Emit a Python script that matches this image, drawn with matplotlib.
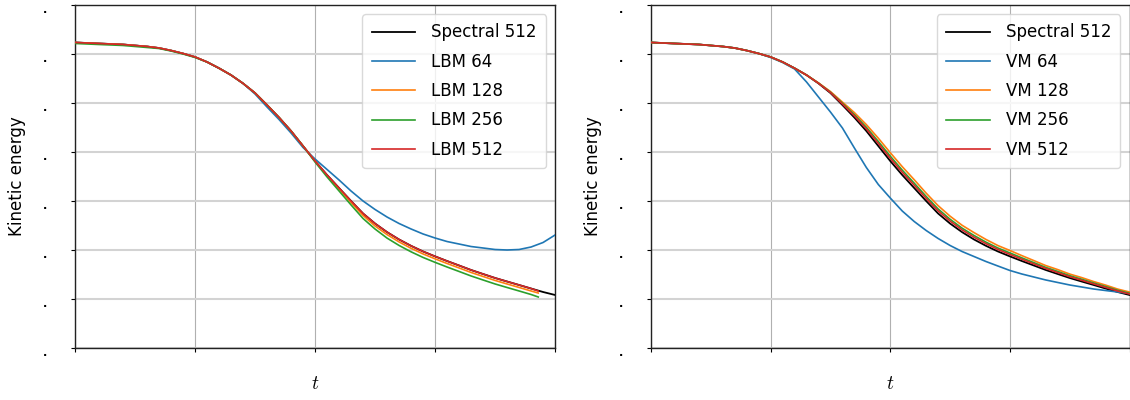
import numpy as np
import matplotlib.pyplot as plt

plt.rcParams['mathtext.fontset'] = 'cm'
plt.rcParams['font.family'] = 'DejaVu Sans'

# time samples
t = [0, 1, 2, 3, 3.5, 4, 4.5, 5, 5.5, 6, 6.5, 7, 7.5, 8, 8.5, 9, 9.5, 10, 10.5, 11, 11.5,
     12, 12.5, 13, 13.5, 14, 14.5, 15, 15.5, 16, 16.5, 17, 17.5, 18, 18.5, 19, 19.5, 20]
t_lbm = t[:36] + [19.3]

spectral = [0.06235, 0.06214, 0.06194, 0.06153, 0.06122, 0.06071, 0.06010, 0.05939, 0.05837,
            0.05710, 0.05570, 0.05400, 0.05204, 0.04959, 0.04704, 0.04429, 0.04122, 0.03816,
            0.03531, 0.03265, 0.03000, 0.02745, 0.02540, 0.02365, 0.02215, 0.02085, 0.01970,
            0.01870, 0.01775, 0.01684, 0.01592, 0.01510, 0.01429, 0.01357, 0.01286, 0.01214,
            0.01143, 0.01082]

# left panel: LBM
lbm_64 = [0.06235, 0.06214, 0.06194, 0.06153, 0.06122, 0.06071, 0.06010, 0.05939, 0.05837,
          0.05710, 0.05570, 0.05400, 0.05184, 0.04918, 0.04663, 0.04388, 0.04092, 0.03857,
          0.03643, 0.03429, 0.03204, 0.03000, 0.02827, 0.02673, 0.02541, 0.02429, 0.02327,
          0.02245, 0.02173, 0.02122, 0.02071, 0.02041, 0.02010, 0.02000, 0.02010, 0.02061,
          0.02153, 0.02306]
lbm_128 = [0.06235, 0.06214, 0.06194, 0.06153, 0.06122, 0.06071, 0.06010, 0.05939, 0.05837,
           0.05710, 0.05570, 0.05400, 0.05204, 0.04959, 0.04704, 0.04429, 0.04122, 0.03816,
           0.03521, 0.03245, 0.02970, 0.02705, 0.02490, 0.02315, 0.02165, 0.02035, 0.01920,
           0.01820, 0.01725, 0.01634, 0.01542, 0.01460, 0.01379, 0.01307, 0.01236, 0.01164,
           0.01122]
lbm_256 = [0.06215, 0.06194, 0.06174, 0.06133, 0.06112, 0.06061, 0.06000, 0.05929, 0.05837,
           0.05710, 0.05570, 0.05400, 0.05204, 0.04959, 0.04704, 0.04429, 0.04122, 0.03796,
           0.03491, 0.03205, 0.02920, 0.02643, 0.02428, 0.02243, 0.02093, 0.01963, 0.01848,
           0.01748, 0.01653, 0.01562, 0.01470, 0.01388, 0.01307, 0.01235, 0.01164, 0.01092,
           0.01041]
lbm_512 = [0.06235, 0.06214, 0.06194, 0.06153, 0.06122, 0.06071, 0.06010, 0.05939, 0.05837,
           0.05710, 0.05570, 0.05400, 0.05204, 0.04959, 0.04704, 0.04429, 0.04122, 0.03816,
           0.03531, 0.03265, 0.03000, 0.02745, 0.02540, 0.02365, 0.02215, 0.02085, 0.01970,
           0.01870, 0.01775, 0.01684, 0.01592, 0.01510, 0.01429, 0.01357, 0.01286, 0.01214,
           0.01163]

# right panel: VM
vm_64 = [0.06235, 0.06214, 0.06194, 0.06153, 0.06122, 0.06071, 0.06010, 0.05929, 0.05827,
         0.05694, 0.05429, 0.05122, 0.04816, 0.04490, 0.04082, 0.03684, 0.03337, 0.03061,
         0.02796, 0.02582, 0.02398, 0.02235, 0.02092, 0.01969, 0.01867, 0.01765, 0.01673,
         0.01582, 0.01510, 0.01449, 0.01388, 0.01337, 0.01286, 0.01245, 0.01204, 0.01173,
         0.01143, 0.01112]
vm_128 = [0.06235, 0.06214, 0.06194, 0.06153, 0.06122, 0.06071, 0.06010, 0.05939, 0.05837,
          0.05710, 0.05570, 0.05410, 0.05234, 0.05019, 0.04804, 0.04559, 0.04282, 0.03986,
          0.03701, 0.03435, 0.03160, 0.02905, 0.02690, 0.02505, 0.02355, 0.02215, 0.02090,
          0.01990, 0.01885, 0.01784, 0.01682, 0.01600, 0.01509, 0.01437, 0.01356, 0.01284,
          0.01203, 0.01142]
vm_256 = [0.06235, 0.06214, 0.06194, 0.06153, 0.06122, 0.06071, 0.06010, 0.05939, 0.05837,
          0.05710, 0.05570, 0.05406, 0.05221, 0.04994, 0.04762, 0.04504, 0.04215, 0.03915,
          0.03630, 0.03364, 0.03093, 0.02838, 0.02627, 0.02446, 0.02296, 0.02160, 0.02040,
          0.01940, 0.01839, 0.01742, 0.01644, 0.01562, 0.01475, 0.01403, 0.01327, 0.01255,
          0.01178, 0.01117]
vm_512 = [0.06235, 0.06214, 0.06194, 0.06153, 0.06122, 0.06071, 0.06010, 0.05939, 0.05837,
          0.05710, 0.05570, 0.05403, 0.05214, 0.04979, 0.04737, 0.04472, 0.04175, 0.03872,
          0.03587, 0.03321, 0.03053, 0.02798, 0.02590, 0.02411, 0.02261, 0.02128, 0.02010,
          0.01910, 0.01811, 0.01717, 0.01622, 0.01540, 0.01455, 0.01383, 0.01309, 0.01237,
          0.01163, 0.01102]

fig = plt.figure(figsize=(11.3, 4), dpi=100)
ax1 = fig.add_axes([0.0664, 0.13, 0.4248, 0.8575])
ax2 = fig.add_axes([0.5761, 0.13, 0.4235, 0.8575])

panels = [
    (ax1, 'LBM', [(t, lbm_64), (t_lbm, lbm_128), (t_lbm, lbm_256), (t_lbm, lbm_512)]),
    (ax2, 'VM', [(t, vm_64), (t, vm_128), (t, vm_256), (t, vm_512)]),
]
colors = ['#1f77b4', '#ff7f0e', '#2ca02c', '#d62728']
res = [64, 128, 256, 512]

for ax, name, series in panels:
    ax.plot(t, spectral, color='black', lw=1.3, label='Spectral 512', zorder=2)
    for (tt, s), c, r in zip(series, colors, res):
        ax.plot(tt, s, color=c, lw=1.2, label='%s %d' % (name, r), zorder=3)
    ax.set_xlim(0, 20)
    ax.set_ylim(0, 0.07)
    ax.set_xticks([0, 5, 10, 15, 20])
    ax.set_yticks(np.arange(0, 0.0701, 0.01))
    ax.set_xticklabels([])
    ax.set_yticklabels(['.'] * 8, va='top', fontsize=8, fontweight='bold')
    ax.tick_params(axis='x', length=3, width=0.8)
    ax.tick_params(axis='y', length=3, width=0.8, pad=17)
    ax.grid(True, axis='x', color='#b0b0b0', lw=0.8)
    ax.grid(True, axis='y', color='#d3d3d3', lw=1.5)
    ax.set_axisbelow(True)
    for sp in ax.spines.values():
        sp.set_color('#222222')
        sp.set_linewidth(1.0)
    ax.set_xlabel('$t$', fontsize=14, labelpad=12)
    ax.set_ylabel('Kinetic energy', fontsize=12, labelpad=12)
    ax.legend(loc='upper right', fontsize=12, handlelength=2.63, labelspacing=0.68,
              borderpad=0.55, handletextpad=0.95, borderaxespad=0.55,
              framealpha=0.8, edgecolor='#d0d0d0')

plt.savefig('out.png', dpi=100)
